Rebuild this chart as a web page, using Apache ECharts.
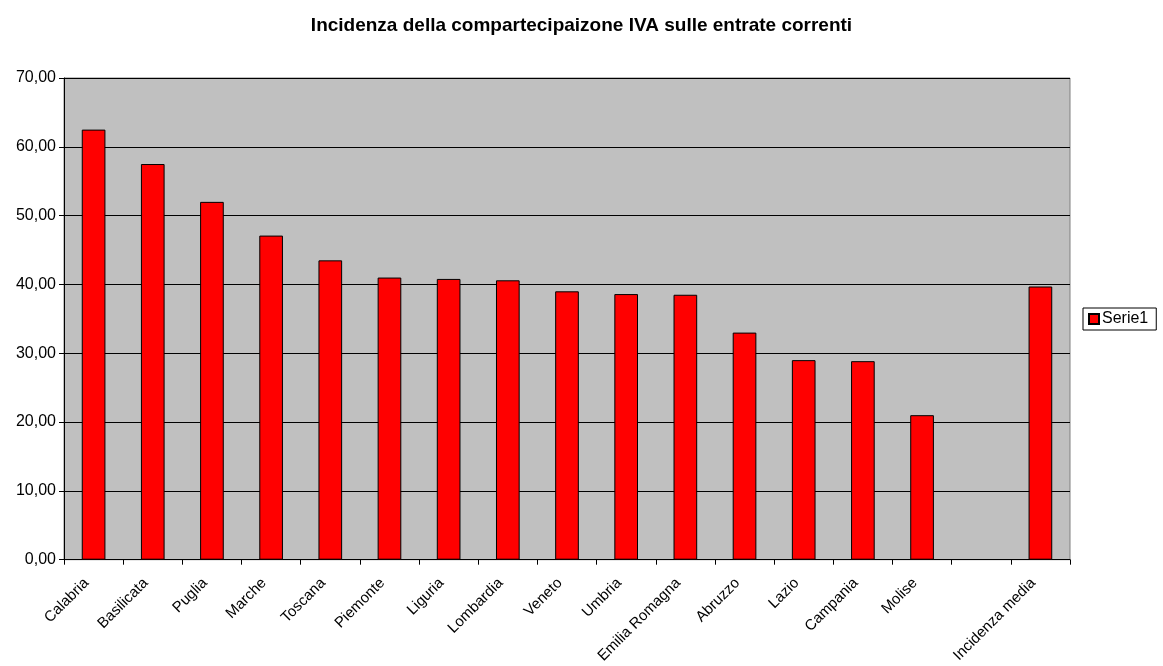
<!DOCTYPE html>
<html>
<head>
<meta charset="utf-8">
<script src="https://cdn.jsdelivr.net/npm/echarts@6/dist/echarts.min.js"></script>
<style>
  html, body { margin: 0; padding: 0; background: #fff; }
  #chart { width: 1163px; height: 666px; }
</style>
</head>
<body>
<div id="chart"></div>
<script>
// Regions (one empty slot separates the regions from the average)
const categories = ['Calabria', 'Basilicata', 'Puglia', 'Marche', 'Toscana', 'Piemonte',
  'Liguria', 'Lombardia', 'Veneto', 'Umbria', 'Emilia Romagna', 'Abruzzo', 'Lazio',
  'Campania', 'Molise', '', 'Incidenza media'];
const serie1 = [62.5, 57.5, 52.0, 47.1, 43.5, 41.0, 40.8, 40.6, 39.0, 38.6, 38.5, 33.0,
  29.0, 28.85, 21.0, null, 39.7];
const yTicks = { min: 0, max: 70, step: 10 };

const font = '"Liberation Sans", Arial, sans-serif';
const chart = echarts.init(document.getElementById('chart'));
chart.setOption({
  animation: false,
  backgroundColor: '#fff',
  title: {
    text: 'Incidenza della compartecipaizone IVA sulle entrate correnti',
    left: 'center',
    top: 11,
    textStyle: { fontFamily: font, fontSize: 19, fontWeight: 'bold', color: '#000' }
  },
  legend: {
    orient: 'vertical',
    left: 1083,
    top: 308,
    padding: [3, 8, 3, 5],
    itemGap: 0,
    itemWidth: 10,
    itemHeight: 10,
    borderColor: '#000',
    borderWidth: 1,
    backgroundColor: '#fff',
    icon: 'rect',
    textStyle: { fontFamily: font, fontSize: 16, color: '#000', padding: [0, 0, 0, -2] },
    data: ['Serie1']
  },
  grid: {
    left: 64,
    right: 93,
    top: 78,
    bottom: 105,
    show: true,
    backgroundColor: '#C0C0C0',
    borderColor: '#808080',
    borderWidth: 1
  },
  xAxis: {
    type: 'category',
    data: categories,
    boundaryGap: true,
    axisLine: { lineStyle: { color: '#000', width: 1 } },
    axisTick: { show: true, length: 5, lineStyle: { color: '#000' } },
    axisLabel: {
      interval: 0,
      rotate: 45,
      margin: 14,
      padding: [0, 10, 0, 0],
      fontFamily: font,
      fontSize: 15,
      color: '#000'
    }
  },
  yAxis: {
    type: 'value',
    min: yTicks.min,
    max: yTicks.max,
    interval: yTicks.step,
    axisLine: { show: true, lineStyle: { color: '#000', width: 1 } },
    axisTick: { show: true, length: 5, lineStyle: { color: '#000' } },
    splitLine: { show: true, lineStyle: { color: '#000', width: 1 } },
    axisLabel: {
      margin: 8,
      fontFamily: font,
      fontSize: 16,
      color: '#000',
      formatter: v => v.toFixed(2).replace('.', ',')
    }
  },
  series: [{
    name: 'Serie1',
    type: 'bar',
    data: serie1,
    barWidth: '40%',
    itemStyle: { color: '#FF0000', borderColor: '#000', borderWidth: 1 }
  }]
});
</script>
</body>
</html>
